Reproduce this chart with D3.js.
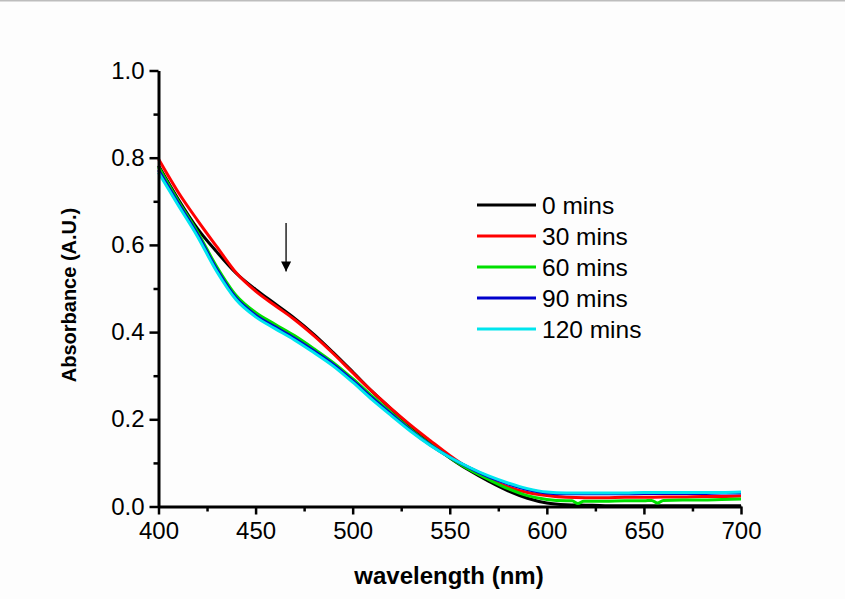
<!DOCTYPE html>
<html>
<head>
<meta charset="utf-8">
<script src="https://cdn.jsdelivr.net/npm/d3@7"></script>
<style>
  html, body { margin: 0; padding: 0; background: #fdfdfd; }
  svg { display: block; }
  text { font-family: "Liberation Sans", Arial, sans-serif; fill: #000; }
</style>
</head>
<body>
<svg id="chart" width="845" height="599"></svg>
<script>
// Wavelength grid (nm) shared by most spectra
const wavelengths = [400,410,420,430,440,450,460,470,480,490,500,510,520,530,540,550,
                     560,570,580,590,600,610,620,630,640,650,660,670,680,690,700];

// Absorbance (A.U.) for each irradiation time
const abs0   = [0.782,0.706,0.638,0.584,0.535,0.498,0.465,0.432,0.395,0.353,0.309,0.264,0.223,0.184,0.147,0.112,
                0.083,0.058,0.036,0.019,0.008,0.004,0.003,0.002,0.002,0.002,0.002,0.002,0.002,0.002,0.002];
const abs30  = [0.797,0.722,0.657,0.596,0.536,0.494,0.461,0.429,0.392,0.351,0.307,0.264,0.224,0.186,0.151,0.117,
                0.087,0.063,0.045,0.032,0.025,0.021,0.020,0.020,0.021,0.021,0.022,0.022,0.023,0.023,0.024];
const abs90  = [0.772,0.697,0.625,0.544,0.478,0.439,0.412,0.386,0.357,0.326,0.289,0.249,0.211,0.174,0.141,0.113,
                0.089,0.068,0.052,0.039,0.031,0.029,0.029,0.029,0.029,0.030,0.030,0.030,0.030,0.031,0.031];
const abs120 = [0.766,0.692,0.620,0.539,0.474,0.435,0.408,0.382,0.353,0.322,0.285,0.245,0.208,0.172,0.140,0.113,
                0.090,0.070,0.054,0.041,0.033,0.031,0.031,0.031,0.031,0.032,0.032,0.032,0.032,0.032,0.033];

// The 60 min spectrum carries two small detector glitches, so it has its own grid
const wavelengths60 = [400,410,420,430,440,450,460,470,480,490,500,510,520,530,540,550,
                       560,570,580,590,600,610,613,616,619,630,640,650,654,657,660,670,680,690,700];
const abs60  = [0.779,0.702,0.630,0.550,0.484,0.445,0.418,0.392,0.362,0.330,0.293,0.253,0.214,0.176,0.142,0.112,
                0.085,0.062,0.041,0.025,0.016,0.013,0.013,0.007,0.012,0.012,0.013,0.013,0.014,0.008,0.014,0.015,0.015,0.016,0.017];

const seriesLabels = ["0 mins","30 mins","60 mins","90 mins","120 mins"];
const seriesColors = ["#000000","#ff0000","#00e000","#0000cc","#00e5ee"];

const xTicks = [400,450,500,550,600,650,700];
const yTicks = [0.0,0.2,0.4,0.6,0.8,1.0];
const xMinorTicks = [425,475,525,575,625,675];
const yMinorTicks = [0.1,0.3,0.5,0.7,0.9];

// Arrow marking the decreasing band (wavelength, absorbance from -> to)
const arrowWl = 465.7, arrowFrom = 0.650, arrowTo = 0.539;

const svg = d3.select("#chart");
svg.append("rect").attr("width",845).attr("height",599).attr("fill","#fdfdfd");
svg.append("rect").attr("width",845).attr("height",1.5).attr("fill","#bdbdbd");

const x = d3.scaleLinear().domain([400,700]).range([158.5,741]);
const y = d3.scaleLinear().domain([0,1]).range([506.5,70.5]);

const series = [
  {wl: wavelengths,   v: abs0},
  {wl: wavelengths,   v: abs30},
  {wl: wavelengths60, v: abs60},
  {wl: wavelengths,   v: abs90},
  {wl: wavelengths,   v: abs120}
];

const line = d3.line().x(d => x(d[0])).y(d => y(d[1])).curve(d3.curveMonotoneX);

const plot = svg.append("g");
series.forEach((s, i) => {
  plot.append("path")
    .datum(s.wl.map((w, j) => [w, s.v[j]]))
    .attr("fill","none")
    .attr("stroke", seriesColors[i])
    .attr("stroke-width", 3)
    .attr("stroke-linejoin","round")
    .attr("d", line);
});

// Axes
const fs = 24;
const yAxis = svg.append("g").attr("transform", `translate(${x(400)},0)`)
  .call(d3.axisLeft(y).tickValues(yTicks).tickFormat(d3.format(".1f")).tickSize(9).tickSizeOuter(0).tickPadding(5));
const yMinor = svg.append("g").attr("transform", `translate(${x(400)},0)`)
  .call(d3.axisLeft(y).tickValues(yMinorTicks).tickFormat("").tickSize(5).tickSizeOuter(0));
const xAxis = svg.append("g").attr("transform", `translate(0,${y(0)})`)
  .call(d3.axisBottom(x).tickValues(xTicks).tickSize(8).tickSizeOuter(0).tickPadding(7));
const xMinor = svg.append("g").attr("transform", `translate(0,${y(0)})`)
  .call(d3.axisBottom(x).tickValues(xMinorTicks).tickFormat("").tickSize(5).tickSizeOuter(0));

[yAxis, yMinor, xAxis, xMinor].forEach(g => {
  g.selectAll("path.domain").attr("stroke","#000").attr("stroke-width",3);
  g.selectAll(".tick line").attr("stroke","#000").attr("stroke-width",2.5);
  g.selectAll(".tick text").attr("font-family","Liberation Sans, Arial, sans-serif")
    .attr("font-size", fs).attr("fill","#000");
});
yMinor.select("path.domain").remove();
xMinor.select("path.domain").remove();

// Axis titles
svg.append("text")
  .attr("x", 449).attr("y", 584)
  .attr("text-anchor","middle")
  .attr("font-weight","bold").attr("font-size", 24)
  .text("wavelength (nm)");
svg.append("text")
  .attr("transform","translate(76,295) rotate(-90)")
  .attr("text-anchor","middle")
  .attr("font-weight","bold").attr("font-size", 20)
  .text("Absorbance (A.U.)");

// Arrow
svg.append("defs").append("marker")
  .attr("id","head").attr("viewBox","0 0 10 10").attr("refX",10).attr("refY",5)
  .attr("markerWidth",10).attr("markerHeight",10).attr("markerUnits","userSpaceOnUse")
  .attr("orient","auto")
  .append("path").attr("d","M0,0 L10,5 L0,10 Z").attr("fill","#000");
svg.append("line")
  .attr("x1", x(arrowWl)).attr("x2", x(arrowWl))
  .attr("y1", y(arrowFrom)).attr("y2", y(arrowTo))
  .attr("stroke","#000").attr("stroke-width",1.3)
  .attr("marker-end","url(#head)");

// Legend
const legend = svg.append("g").attr("transform","translate(477,205)");
seriesLabels.forEach((lab, i) => {
  const g = legend.append("g").attr("transform", `translate(0,${i*31})`);
  g.append("line").attr("x1",0).attr("x2",59).attr("y1",0).attr("y2",0)
    .attr("stroke", seriesColors[i]).attr("stroke-width",3);
  g.append("text").attr("x",65).attr("y",0).attr("dy","0.35em")
    .attr("font-size", 24.5).text(lab);
});
</script>
</body>
</html>
